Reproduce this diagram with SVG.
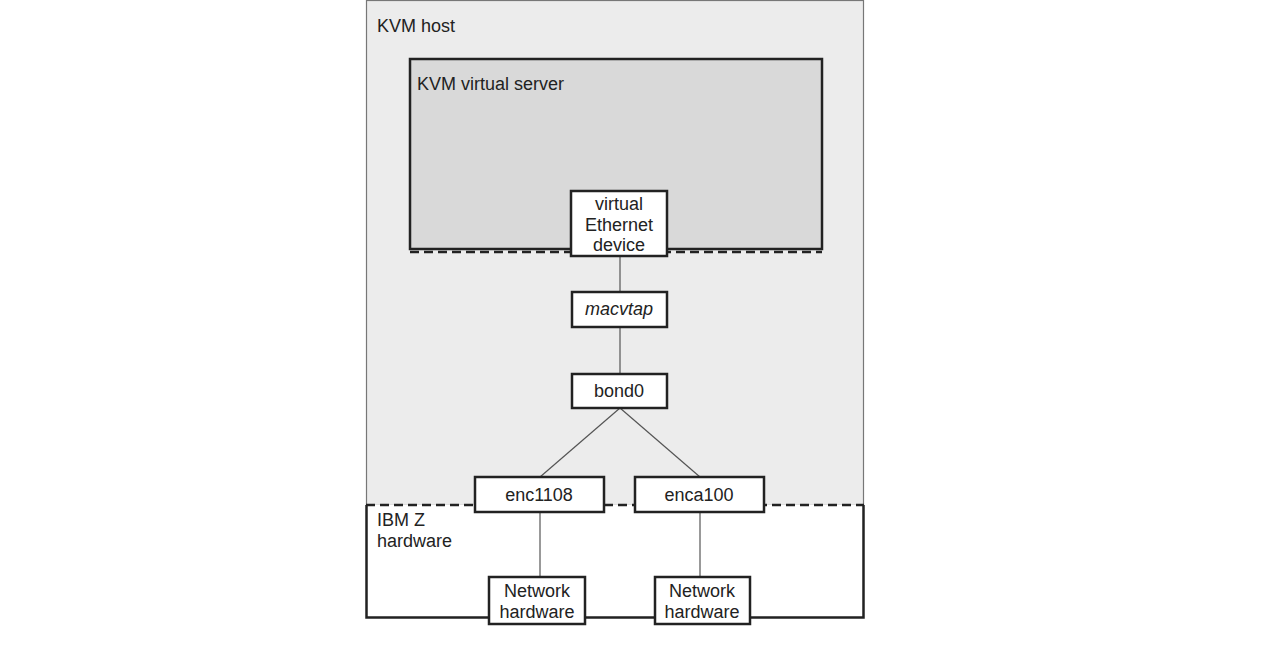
<svg xmlns="http://www.w3.org/2000/svg" width="1280" height="655" viewBox="0 0 1280 655">
<style>
text{font-family:"Liberation Sans",Arial,sans-serif;font-size:18px;fill:#222}
.n{fill:#fff;stroke:#222;stroke-width:2.5}
.c{stroke:#555;stroke-width:1.2;fill:none}
.d{stroke:#222;stroke-width:2.5;stroke-dasharray:9 5;fill:none}
</style>
<rect width="1280" height="655" fill="#fff"/>
<g id="kvm-host">
<rect x="366.5" y="0.5" width="497" height="505" fill="#ececec" stroke="#777" stroke-width="1.2"/>
<text x="377" y="32">KVM host</text>
</g>
<g id="ibm-z-hardware">
<path d="M366.5 505 V617.5 H863.5 V505" fill="#fff" stroke="#222" stroke-width="2.5"/>
<line class="d" x1="366" y1="505" x2="864" y2="505"/>
<text x="377" y="526">IBM Z</text>
<text x="377" y="547">hardware</text>
</g>
<g id="kvm-virtual-server">
<rect x="410" y="59" width="412" height="190" fill="#d9d9d9" stroke="#222" stroke-width="2.5"/>
<line class="d" x1="410" y1="252" x2="822" y2="252"/>
<text x="417" y="90">KVM virtual server</text>
</g>
<g id="connectors">
<line class="c" x1="620" y1="256" x2="620" y2="292"/>
<line class="c" x1="620" y1="327" x2="620" y2="374"/>
<line class="c" x1="620" y1="408" x2="540" y2="477"/>
<line class="c" x1="620" y1="408" x2="700" y2="477"/>
<line class="c" x1="540" y1="512" x2="540" y2="577"/>
<line class="c" x1="700" y1="512" x2="700" y2="577" stroke="#999"/>
</g>
<g id="veth">
<rect class="n" x="571" y="191" width="96" height="65"/>
<text x="619" y="210" text-anchor="middle">virtual</text>
<text x="619" y="231" text-anchor="middle">Ethernet</text>
<text x="619" y="251" text-anchor="middle">device</text>
</g>
<g id="macvtap">
<rect class="n" x="572" y="292" width="95" height="35"/>
<text x="619" y="315" text-anchor="middle" font-style="italic">macvtap</text>
</g>
<g id="bond0">
<rect class="n" x="572" y="374" width="95" height="34"/>
<text x="619" y="397" text-anchor="middle">bond0</text>
</g>
<g id="enc1108">
<rect class="n" x="475" y="477" width="129" height="35"/>
<text x="539" y="501" text-anchor="middle">enc1108</text>
</g>
<g id="enca100">
<rect class="n" x="635" y="477" width="129" height="35"/>
<text x="699" y="501" text-anchor="middle">enca100</text>
</g>
<g id="nh1">
<rect class="n" x="489" y="577" width="96" height="47"/>
<text x="537" y="597" text-anchor="middle">Network</text>
<text x="537" y="618" text-anchor="middle">hardware</text>
</g>
<g id="nh2">
<rect class="n" x="655" y="577" width="95" height="47"/>
<text x="702" y="597" text-anchor="middle">Network</text>
<text x="702" y="618" text-anchor="middle">hardware</text>
</g>
</svg>
